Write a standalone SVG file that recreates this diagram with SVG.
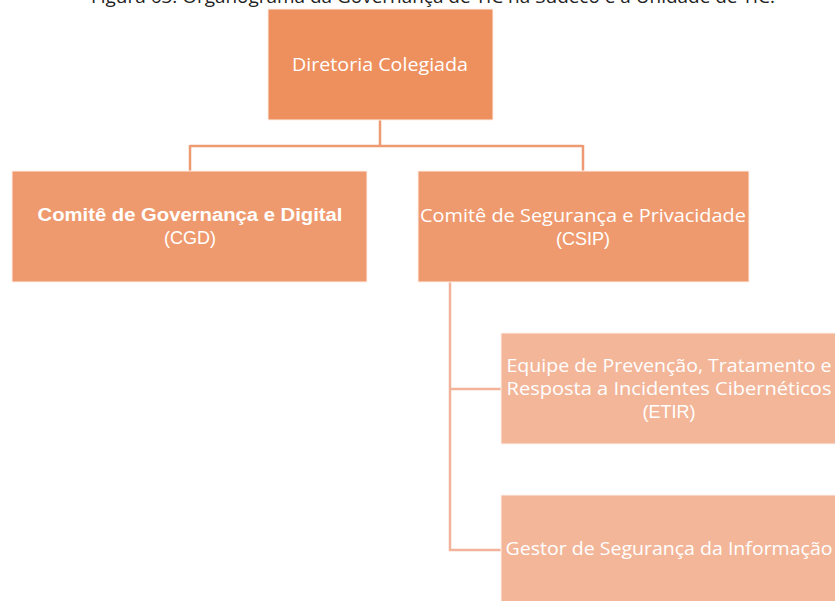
<svg xmlns="http://www.w3.org/2000/svg" width="835" height="601" viewBox="0 0 835 601">
<style>
.cap{font-family:"Open Sans","Noto Sans",sans-serif;font-size:18px;fill:#222;text-anchor:middle}
.t{font-family:"Open Sans","Noto Sans",sans-serif;font-size:18px;fill:#fff;text-anchor:middle}
.a{font-family:"Liberation Sans",Arial,sans-serif;font-size:18px;fill:#fff;text-anchor:middle}
.b{font-family:"Liberation Sans",Arial,sans-serif;font-size:17.5px;font-weight:bold;fill:#fff;text-anchor:middle}
.l1{fill:#EE8F5E;stroke:#fdf0e8;stroke-width:1}
.l2{fill:#EF9A6E;stroke:#fdf0e8;stroke-width:1}
.l3{fill:#F3B699;stroke:#fdf4ee;stroke-width:1}
.c1{fill:none;stroke:#EE9A72;stroke-width:2.5}
.c2{fill:none;stroke:#F2B39A;stroke-width:2.5}
</style>
<rect width="835" height="601" fill="#fff"/>
<text class="cap" x="433" y="3" textLength="684" lengthAdjust="spacingAndGlyphs">Figura 63: Organograma da Governança de TIC na Sudeco e a Unidade de TIC.</text>
<g id="connectors">
<path class="c1" d="M380,120 V146 M190,146 H583 M190,145 V171 M583,145 V171"/>
<path class="c2" d="M450,282 V550 H501 M450,389 H501"/>
</g>
<g id="diretoria">
<rect class="l1" x="268" y="9" width="225" height="111"/>
<text class="t" x="380" y="71" textLength="176" lengthAdjust="spacingAndGlyphs">Diretoria Colegiada</text>
</g>
<g id="cgd">
<rect class="l2" x="12" y="171" width="355" height="111"/>
<text class="b" x="190" y="221" textLength="305" lengthAdjust="spacingAndGlyphs">Comitê de Governança e Digital</text>
<text class="a" x="190" y="244">(CGD)</text>
</g>
<g id="csip">
<rect class="l2" x="418" y="171" width="331" height="111"/>
<text class="t" x="583" y="222" textLength="326" lengthAdjust="spacingAndGlyphs">Comitê de Segurança e Privacidade</text>
<text class="a" x="583" y="245">(CSIP)</text>
</g>
<g id="etir">
<rect class="l3" x="501" y="333" width="340" height="111"/>
<text class="t" x="669" y="372" textLength="325" lengthAdjust="spacingAndGlyphs">Equipe de Prevenção, Tratamento e</text>
<text class="t" x="669" y="395" textLength="325" lengthAdjust="spacingAndGlyphs">Resposta a Incidentes Cibernéticos</text>
<text class="a" x="669" y="418">(ETIR)</text>
</g>
<g id="gestor">
<rect class="l3" x="501" y="495" width="340" height="111"/>
<text class="t" x="669" y="555" textLength="327" lengthAdjust="spacingAndGlyphs">Gestor de Segurança da Informação</text>
</g>
</svg>
